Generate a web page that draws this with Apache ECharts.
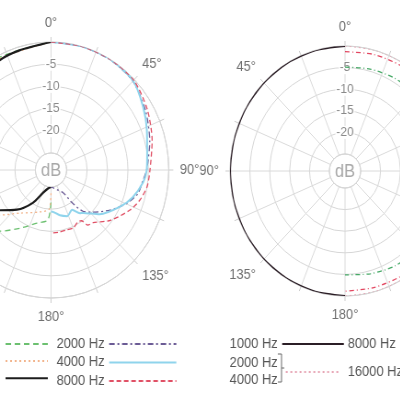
<!doctype html>
<html lang="en">
<head>
  <meta charset="utf-8">
  <title>Polar pattern</title>
  <script src="https://cdn.jsdelivr.net/npm/echarts/dist/echarts.min.js"></script>
  <style>
    html, body { margin: 0; padding: 0; overflow: hidden; background: #fff; }
    /* the source picture is squeezed sideways, so the whole chart is too */
    #chart { width: 435px; height: 400px; transform: scaleX(0.92); transform-origin: 0 0; }
  </style>
</head>
<body>
  <div id="chart"></div>
  <script type="text/javascript">
    // ---- left diagram (angle in degrees, level in dB) ----
    const lPurpleAng = [0, 15, 30, 45, 60, 75, 90, 96, 104, 112, 122, 133, 140, 145, 150, 180];
    const lPurpleDb = [0, 0, -0.1, -0.5, -2.1, -3.8, -5.4, -6.2, -6.9, -8.8, -11.8, -14.9, -16.7, -19.8, -22.9, -25];
    const lCyanAng = [0, 15, 30, 45, 58, 69, 81, 90, 97, 107, 116, 130, 141, 144, 150, 159, 168, 177, 180];
    const lCyanDb = [0, 0, 0, -0.4, -2.2, -3.7, -5.0, -5.4, -6.1, -7.9, -10.0, -13.3, -16.4, -16.8, -18.5, -17.7, -18.4, -19.4, -19.5];
    const lRedAng = [0, 15, 30, 45, 60, 75, 90, 99, 107, 115, 128, 139, 144, 147, 151, 157, 164, 172, 180];
    const lRedDb = [0, 0, 0, -0.2, -1.6, -3.2, -4.6, -5.0, -6.0, -7.5, -10.4, -13.1, -13.5, -15.2, -15.4, -14.7, -14.8, -14.7, -14.6];
    const lBlackAng = [180, 190, 201, 211, 223, 234, 245, 255, 270, 285, 300, 315, 333, 344, 360];
    const lBlackDb = [-25, -24.6, -23.3, -20.2, -16.6, -13.4, -10.5, -8, -5.5, -4, -2.8, -1.8, -1.1, -0.8, 0];
    const lOrangeAng = [180, 183, 196, 218, 231, 250, 270, 300, 330, 360];
    const lOrangeDb = [-23.6, -20, -19, -16.5, -12.7, -8.5, -5.5, -2.5, -0.8, 0];
    const lGreenAng = [180, 184, 196, 210, 222, 240, 270, 300, 330, 360];
    const lGreenDb = [-21.5, -17.5, -16.4, -13.7, -10.3, -7, -3.8, -1.5, -0.4, 0];

    // ---- right diagram ----
    const rFrontAng = [0, 15, 30, 45, 60, 75, 90, 105, 120, 135, 150, 165, 180];
    const rBackAng = [180, 195, 210, 225, 240, 255, 270, 285, 300, 315, 330, 345, 360];
    const rBlackDb = [0, 0, 0, 0, 0, 0, 0, 0, 0, 0, 0, 0, 0];
    const rPinkDb = [0, 0, 0, 0, 0, 0, 0, 0, 0, 0, 0, 0, 0];
    const rRedDb = [-1.3, -1.0, -0.8, -0.7, -0.6, -0.6, -0.6, -0.6, -0.6, -0.7, -0.8, -1.0, -1.1];
    const rGreenDb = [-4.9, -4.5, -4.1, -3.8, -3.6, -3.5, -3.5, -3.5, -3.5, -3.5, -3.6, -4.3, -4.9];

    const ringTicks = [-25, 0];
    const leftAngleLabels = [0, 45, 90, 135, 180];
    const rightAngleLabels = [0, 180, 225, 270, 315];

    const font = 'Liberation Sans, Arial, sans-serif';
    const S = 0.92;
    const leftCenter = [51 / S, 170];
    const rightCenter = [345 / S, 171];

    const pairs = (ang, db) => ang.map((a, i) => [db[i], a]);

    const angleAxis = (idx, shown) => ({
      polarIndex: idx, type: 'value', min: 0, max: 360, interval: 22.5,
      startAngle: 90, clockwise: true,
      axisLine: { lineStyle: { color: '#cdcdcd', width: 1 } },
      axisTick: { show: true, length: 5, lineStyle: { color: '#cdcdcd' } },
      splitLine: { lineStyle: { color: '#dadada', width: 1 } },
      axisLabel: {
        margin: 12, color: '#707070', fontSize: 14, fontFamily: font,
        formatter: v => shown.includes(v) ? (v > 180 ? 360 - v : v) + '°' : ''
      }
    });
    const radiusAxis = idx => ({
      polarIndex: idx, type: 'value', min: ringTicks[0], max: ringTicks[1], interval: 5,
      axisLine: { show: false }, axisTick: { show: false },
      splitLine: { lineStyle: { color: '#d6d6d6', width: 1 } },
      axisLabel: {
        margin: 0, align: 'center', verticalAlign: 'middle', color: '#8a8a8a', fontSize: 13,
        fontFamily: font, showMinLabel: false, showMaxLabel: false,
        backgroundColor: '#fff', padding: [0, 1]
      },
      z: 3
    });
    const line = (name, idx, data, color, width, type) => ({
      name: name, type: 'line', coordinateSystem: 'polar', polarIndex: idx,
      data: data, symbol: 'none', smooth: 0.25, silent: true, animation: false,
      lineStyle: { color: color, width: width, type: type }, itemStyle: { color: color }
    });

    const legendText = { color: '#555', fontSize: 14, fontFamily: font };
    // one legend per block of the key; the marker dot is hidden, only the line shows
    const legend = (names, extra) => Object.assign({
      data: names, itemHeight: 14, selectedMode: false, textStyle: legendText,
      itemStyle: { opacity: 0 }, formatter: n => n.slice(2)
    }, extra);

    let chart = echarts.init(document.getElementById('chart'));
    chart.setOption({
      animation: false,
      polar: [
        { center: leftCenter, radius: [17, 128] },
        { center: rightCenter, radius: [17, 125] }
      ],
      angleAxis: [angleAxis(0, leftAngleLabels), angleAxis(1, rightAngleLabels)],
      radiusAxis: [radiusAxis(0), radiusAxis(1)],
      legend: [
        legend(['L green', 'L orange', 'L black'],
          { orient: 'vertical', left: 0, top: 332, itemWidth: 46, itemGap: 4.5, formatter: () => '' }),
        legend(['L 2000 Hz', 'L 4000 Hz', 'L 8000 Hz'],
          { orient: 'vertical', align: 'right', left: 56.5, top: 332, itemWidth: 73, itemGap: 4.5 }),
        legend(['R 1000 Hz'], { align: 'right', left: 244.6, top: 332, itemWidth: 67 }),
        legend(['R 8000 Hz'], { align: 'right', left: 373, top: 332, itemWidth: 60 }),
        legend(['R 2000 Hz / 4000 Hz'], { align: 'right', left: 244.6, top: 350, itemWidth: 58,
          formatter: () => '2000 Hz \n4000 Hz ', textStyle: Object.assign({ lineHeight: 17 }, legendText) }),
        legend(['R 16000 Hz'], { align: 'right', left: 373, top: 360, itemWidth: 60 })
      ],
      graphic: [
        { type: 'text', x: leftCenter[0], y: leftCenter[1] + 1, silent: true,
          style: { text: 'dB', fill: '#a8a8a8', font: '18px ' + font, textAlign: 'center', textVerticalAlign: 'middle' } },
        { type: 'text', x: rightCenter[0], y: rightCenter[1] + 1, silent: true,
          style: { text: 'dB', fill: '#a8a8a8', font: '18px ' + font, textAlign: 'center', textVerticalAlign: 'middle' } },
        { type: 'polyline', silent: true,
          shape: { points: [[302, 354], [306, 354], [306, 382], [302, 382]] },
          style: { stroke: '#666', lineWidth: 1, fill: null } },
        { type: 'line', silent: true,
          shape: { x1: 306, y1: 368, x2: 309, y2: 368 },
          style: { stroke: '#666', lineWidth: 1 } }
      ],
      series: [
        line('L green', 0, pairs(lGreenAng, lGreenDb), '#6cc070', 1.3, [6, 4]),
        line('L orange', 0, pairs(lOrangeAng, lOrangeDb), '#f2b48c', 1.3, [2, 3]),
        line('L black', 0, pairs(lBlackAng, lBlackDb), '#1c1c1c', 2.2, 'solid'),
        line('L 2000 Hz', 0, pairs(lPurpleAng, lPurpleDb), '#6b5b95', 1.3, [6, 3, 2, 3]),
        line('L 4000 Hz', 0, pairs(lCyanAng, lCyanDb), '#8fd4ec', 2, 'solid'),
        line('L 8000 Hz', 0, pairs(lRedAng, lRedDb), '#e05065', 1.3, [5, 3]),
        line('R 1000 Hz', 1, pairs(rBackAng, rBlackDb), '#2b1e26', 2.2, 'solid'),
        line('R 2000 Hz / 4000 Hz', 1, pairs(rFrontAng, rPinkDb), '#e6a3b3', 1, [2, 3]),
        line('R 8000 Hz', 1, pairs(rFrontAng, rRedDb), '#e24660', 1.3, [5, 3, 1, 3]),
        line('R 16000 Hz', 1, pairs(rFrontAng, rGreenDb), '#45a865', 1.3, [5, 3, 1, 3])
      ]
    });
  </script>
</body>
</html>
